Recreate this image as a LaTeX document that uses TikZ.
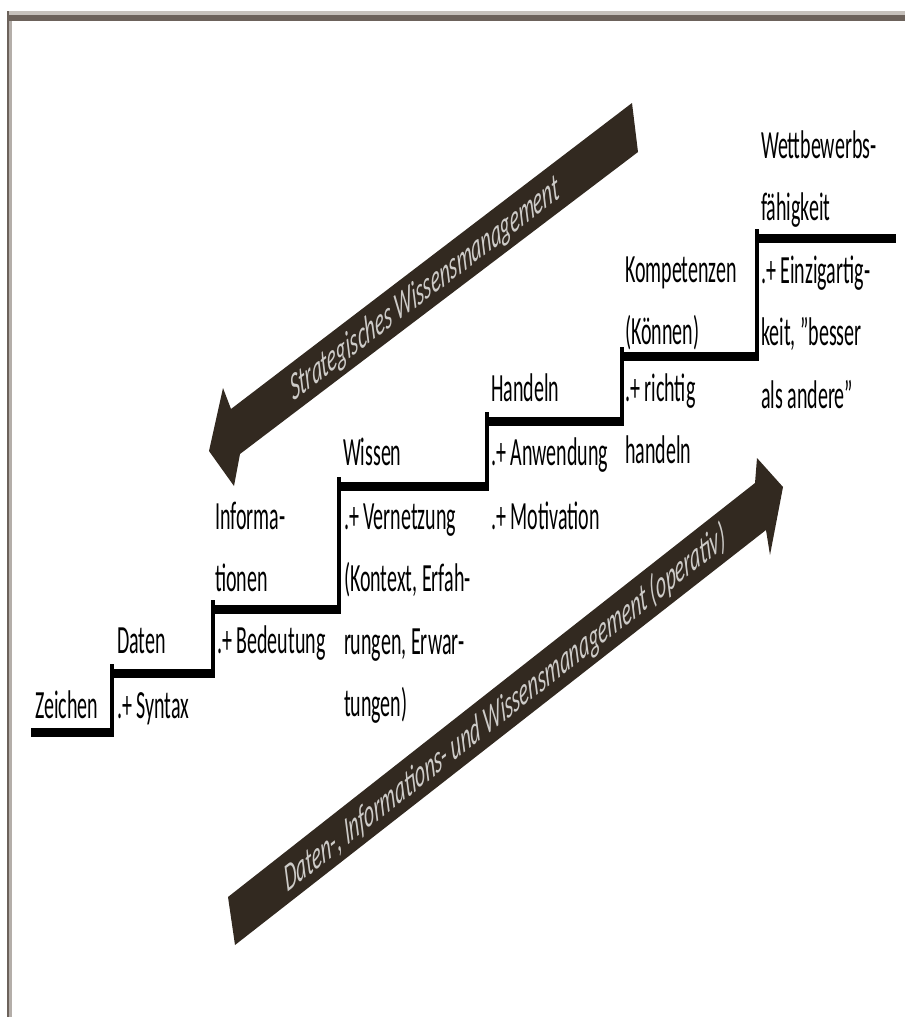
\documentclass[tikz,border=0pt]{standalone}
\usepackage{fontspec}
\setmainfont{Carlito}
\definecolor{arrowbrown}{RGB}{50,41,32}
\definecolor{framedark}{RGB}{108,98,91}
\definecolor{framelight}{RGB}{198,193,188}
\definecolor{arrowtext}{RGB}{205,203,200}
\newcommand{\stairtext}[1]{\scalebox{1}[2]{\fontsize{20}{31.25}\selectfont\begin{tabular}[t]{@{}l@{}}#1\end{tabular}}}
\begin{document}
\begin{tikzpicture}[x=1pt,y=-1pt,
  lbl/.style={anchor=base west, inner sep=0pt, outer sep=0pt, text=black},
  arrowlbl/.style={inner sep=0pt, text=arrowtext, font=\fontsize{20}{24}\selectfont\itshape},
  stairbar/.style={fill=black},
  bigarrow/.style={fill=arrowbrown}]
\useasboundingbox (0,0) rectangle (905,1017);
% frame
\fill[framelight] (7,11) rectangle (905,15);
\fill[framedark] (7,15) rectangle (905,21);
\fill[framedark] (7,11) rectangle (9,1017);
\fill[framelight!80!framedark] (9,21) rectangle (11.5,1017);
% stair (horizontal treads thicker than vertical risers)
\fill[stairbar] (31,728) rectangle (114,737);
\fill[stairbar] (110,664) rectangle (114,737);
\fill[stairbar] (110,669) rectangle (215,678);
\fill[stairbar] (211,600) rectangle (215,678);
\fill[stairbar] (211,605) rectangle (341,614);
\fill[stairbar] (337,477) rectangle (341,614);
\fill[stairbar] (337,482) rectangle (489,491);
\fill[stairbar] (485,412) rectangle (489,491);
\fill[stairbar] (485,417) rectangle (624,426);
\fill[stairbar] (620,347) rectangle (624,426);
\fill[stairbar] (620,352) rectangle (759,361);
\fill[stairbar] (755,229) rectangle (759,361);
\fill[stairbar] (755,234) rectangle (896,243);
% arrows
\fill[bigarrow] (632,103) -- (231,409) -- (223,388) -- (209,451) -- (234,486)
  -- (240,454) -- (638,152) -- cycle;
\fill[bigarrow] (228,897) -- (755,483) -- (757,458) -- (783,487) -- (770,555)
  -- (766,530) -- (235,945) -- cycle;
\begin{scope}[shift={(425,290)}, yscale=2]
  \node[arrowlbl, rotate=20.9, transform shape] (strat) at (0,0) {Strategisches Wissensmanagement};
\end{scope}
\begin{scope}[shift={(505,709)}, yscale=2]
  \node[arrowlbl, rotate=21.5, transform shape] (oper) at (0,0) {Daten-, Informations- und Wissensmanagement (operativ)};
\end{scope}
% texts
\node[lbl] (zei) at (35,718) {\stairtext{Zeichen}};
\node[lbl] (syn) at (117,718) {\stairtext{.+ Syntax}};
\node[lbl] (dat) at (117,653) {\stairtext{Daten}};
\node[lbl] (bed) at (217,653) {\stairtext{.+ Bedeutung}};
\node[lbl] (inf) at (215,529) {\stairtext{Informa-\\tionen}};
\node[lbl] (wis) at (343,465) {\stairtext{Wissen}};
\node[lbl] (ver) at (344,529) {\stairtext{.+ Vernetzung\\(Kontext, Erfah-\\rungen, Erwar-\\tungen)}};
\node[lbl] (han) at (491,401) {\stairtext{Handeln}};
\node[lbl] (anw) at (491,465) {\stairtext{.+ Anwendung}};
\node[lbl] (mot) at (491,529) {\stairtext{.+ Motivation}};
\node[lbl] (kom) at (625,282) {\stairtext{Kompetenzen\\(Können)}};
\node[lbl] (ric) at (625,401) {\stairtext{.+ richtig\\handeln}};
\node[lbl] (wet) at (761,158) {\stairtext{Wettbewerbs-\\fähigkeit}};
\node[lbl] (ein) at (761,283) {\stairtext{.+ Einzigartig-\\keit, "besser\\als andere"}};
\end{tikzpicture}
\end{document}
